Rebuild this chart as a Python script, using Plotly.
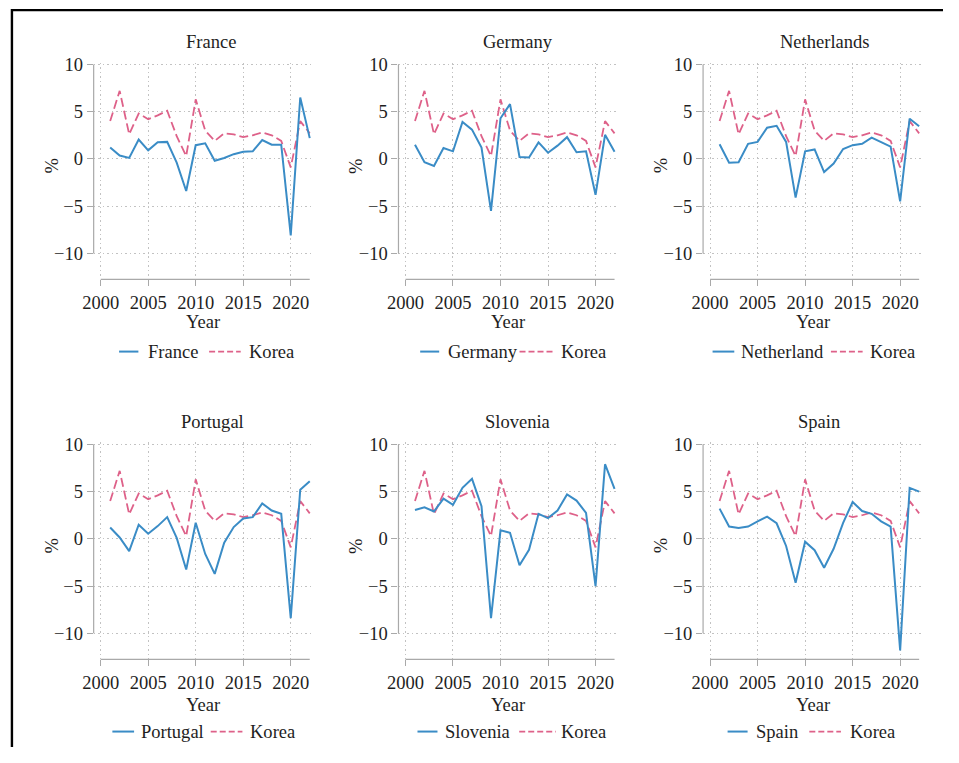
import plotly.graph_objects as go

# Annual real GDP growth (%), 2001-2022
years = list(range(2001, 2023))
korea = [4.0, 7.2, 2.6, 4.8, 4.2, 4.6, 5.1, 2.4, 0.3, 6.3, 3.0, 1.9,
         2.7, 2.6, 2.3, 2.5, 2.8, 2.5, 1.9, -0.9, 4.0, 2.7]
france = [1.2, 0.35, 0.1, 2.05, 0.9, 1.75, 1.8, -0.4, -3.4, 1.45, 1.65, -0.2,
          0.1, 0.5, 0.75, 0.8, 2.0, 1.5, 1.5, -8.1, 6.5, 2.2]
germany = [1.5, -0.35, -0.75, 1.15, 0.8, 3.9, 3.1, 1.2, -5.5, 4.3, 5.8, 0.2,
           0.15, 1.75, 0.65, 1.4, 2.3, 0.7, 0.8, -3.8, 2.55, 0.75]
netherlands = [1.55, -0.4, -0.35, 1.6, 1.8, 3.3, 3.5, 1.8, -4.1, 0.8, 1.0, -1.4,
               -0.5, 1.05, 1.45, 1.6, 2.25, 1.8, 1.3, -4.5, 4.25, 3.45]
portugal = [1.2, 0.15, -1.3, 1.5, 0.55, 1.35, 2.3, 0.1, -3.25, 1.7, -1.6, -3.7,
            -0.4, 1.25, 2.15, 2.3, 3.75, 3.0, 2.65, -8.4, 5.2, 6.1]
slovenia = [3.05, 3.35, 2.9, 4.25, 3.6, 5.4, 6.35, 3.45, -8.4, 0.9, 0.65, -2.8,
            -1.15, 2.65, 2.2, 3.0, 4.7, 4.05, 2.75, -5.0, 7.9, 5.3]
spain = [3.2, 1.3, 1.15, 1.3, 1.85, 2.35, 1.65, -0.75, -4.65, -0.3, -1.2, -3.05,
         -1.05, 1.7, 3.9, 2.95, 2.65, 1.85, 1.3, -11.8, 5.4, 5.0]

panel_titles = ["France", "Germany", "Netherlands", "Portugal", "Slovenia", "Spain"]
legend_names = ["France", "Germany", "Netherland", "Portugal", "Slovenia", "Spain"]
series = [france, germany, netherlands, portugal, slovenia, spain]

year_ticks = [2000, 2005, 2010, 2015, 2020]
pct_ticks = [-10, -5, 0, 5, 10]

# Figure size; the page adds an 8px body margin around it and the
# displayed view is scaled by S and centred horizontally (offset OX).
FW, FH = 943, 747
BODY_MARGIN = 8
S = 0.988
OX = 959 * (1 - S) / 2

BLUE = "#3a8cc6"
PINK = "#de6189"
AXIS_GREY = "#a9a9a9"
GRID_GREY = "#c2c2c2"
TEXT = "#1e1e1e"
FONT = "Liberation Serif"
FS = 18.3 / S

# layout geometry (view pixels)
X2000 = [103.3, 408.0, 712.5]   # x pixel of year 2000 per column
Y10 = [63.3, 443.3]             # y pixel of +10 per row
PPY = 9.5                       # pixels per year
PPU = 9.45                      # pixels per percentage point
X_LO = 2000 - 7 / PPY
X_HI = 2022.5
Y_LO, Y_HI = -12.76, 10.2

# per-panel legend layout: blue key, name, dashed key, "Korea"
legend_pos = [
    (121.7, 141.0, 148.3, 211.7, 243.3, 250.0),
    (422.7, 441.7, 448.3, 522.0, 556.7, 561.7),
    (715.0, 736.7, 741.0, 833.3, 865.0, 870.0),
    (115.0, 136.7, 141.7, 213.3, 245.0, 250.7),
    (420.0, 440.0, 446.0, 521.7, 558.3, 561.7),
    (730.0, 750.0, 756.7, 811.7, 843.3, 850.0),
]
title_x = [213.3, 520.0, 826.7, 215.0, 520.0, 821.7]
title_y = [40.0, 420.0]
pct_x = [54.0, 357.5, 662.5]
pct_y = [165.0, 545.0]
year_y = [320.0, 703.0]
legend_y = [350.5, 730.5]


def px(x):
    return ((x - OX) / S - BODY_MARGIN) / FW


def py(y):
    return 1 - (y / S - BODY_MARGIN) / FH


fig = go.Figure()
annotations = []
shapes = []

for i, (title, name, vals) in enumerate(zip(panel_titles, legend_names, series)):
    r, c = divmod(i, 3)
    n = i + 1
    xa = "x" if n == 1 else f"x{n}"
    ya = "y" if n == 1 else f"y{n}"

    left = X2000[c] - 7
    right = X2000[c] + (X_HI - 2000) * PPY
    top = Y10[r] - (Y_HI - 10) * PPU
    bottom = Y10[r] + (10 - Y_LO) * PPU

    fig.add_trace(go.Scatter(x=years, y=korea, mode="lines", name="Korea",
                             line=dict(color=PINK, width=1.8, dash="9px,4px"),
                             xaxis=xa, yaxis=ya, showlegend=False))
    fig.add_trace(go.Scatter(x=years, y=vals, mode="lines", name=name,
                             line=dict(color=BLUE, width=2),
                             xaxis=xa, yaxis=ya, showlegend=False))

    axis_common = dict(
        showline=False, zeroline=False, ticks="outside", ticklen=6,
        tickwidth=1, tickcolor=AXIS_GREY, showgrid=True, gridcolor=GRID_GREY,
        griddash="1.5px,3px", gridwidth=1,
        tickfont=dict(family=FONT, size=FS, color=TEXT),
    )
    fig.layout[("xaxis" if n == 1 else f"xaxis{n}")] = dict(
        axis_common, domain=[px(left), px(right)], range=[X_LO, X_HI],
        tickvals=year_ticks, anchor=ya,
    )
    fig.layout[("yaxis" if n == 1 else f"yaxis{n}")] = dict(
        axis_common, domain=[py(bottom), py(top)], range=[Y_LO, Y_HI],
        tickvals=pct_ticks, ticktext=["\u221210", "\u22125", "0", "5", "10"],
        anchor=xa,
    )

    # axis lines
    shapes.append(dict(type="line", xref=f"{xa} domain", yref=ya,
                       x0=0, x1=0, y0=-10, y1=10,
                       line=dict(color=AXIS_GREY, width=1.2)))
    shapes.append(dict(type="line", xref=xa, yref=f"{ya} domain",
                       x0=2000, x1=2022, y0=0, y1=0,
                       line=dict(color=AXIS_GREY, width=1.2)))

    # titles
    annotations.append(dict(text=title, x=px(title_x[i]), y=py(title_y[r]),
                            xref="paper", yref="paper", showarrow=False,
                            xanchor="center", yanchor="middle",
                            font=dict(family=FONT, size=FS, color=TEXT)))
    annotations.append(dict(text="Year", x=px(X2000[c] + 11 * PPY - 2), y=py(year_y[r]),
                            xref="paper", yref="paper", showarrow=False,
                            xanchor="center", yanchor="middle",
                            font=dict(family=FONT, size=FS, color=TEXT)))
    annotations.append(dict(text="%", x=px(pct_x[c]), y=py(pct_y[r]),
                            xref="paper", yref="paper", showarrow=False,
                            textangle=-90, xanchor="center", yanchor="middle",
                            font=dict(family=FONT, size=FS, color=TEXT)))

    # legend
    bx0, bx1, nx, dx0, dx1, kx = legend_pos[i]
    ly = py(legend_y[r])
    shapes.append(dict(type="line", xref="paper", yref="paper",
                       x0=px(bx0), x1=px(bx1), y0=ly, y1=ly,
                       line=dict(color=BLUE, width=2)))
    shapes.append(dict(type="line", xref="paper", yref="paper",
                       x0=px(dx0), x1=px(dx1), y0=ly, y1=ly,
                       line=dict(color=PINK, width=1.8, dash="6px,3px")))
    annotations.append(dict(text=name, x=px(nx), y=ly, xref="paper", yref="paper",
                            showarrow=False, xanchor="left", yanchor="middle",
                            font=dict(family=FONT, size=FS, color=TEXT)))
    annotations.append(dict(text="Korea", x=px(kx), y=ly, xref="paper", yref="paper",
                            showarrow=False, xanchor="left", yanchor="middle",
                            font=dict(family=FONT, size=FS, color=TEXT)))

# outer frame (left and top edges), drawn at the figure's own edge
shapes.append(dict(type="line", xref="paper", yref="paper",
                   x0=0.001, x1=0.001, y0=1, y1=0,
                   line=dict(color="black", width=2.4)))
shapes.append(dict(type="line", xref="paper", yref="paper",
                   x0=0, x1=1, y0=0.9985, y1=0.9985,
                   line=dict(color="black", width=2.4)))

fig.update_layout(
    width=FW, height=FH,
    margin=dict(l=0, r=0, t=0, b=0),
    paper_bgcolor="white", plot_bgcolor="white",
    showlegend=False,
    annotations=annotations,
    shapes=shapes,
    font=dict(family=FONT, size=FS, color=TEXT),
)

fig.write_html("out.html")
